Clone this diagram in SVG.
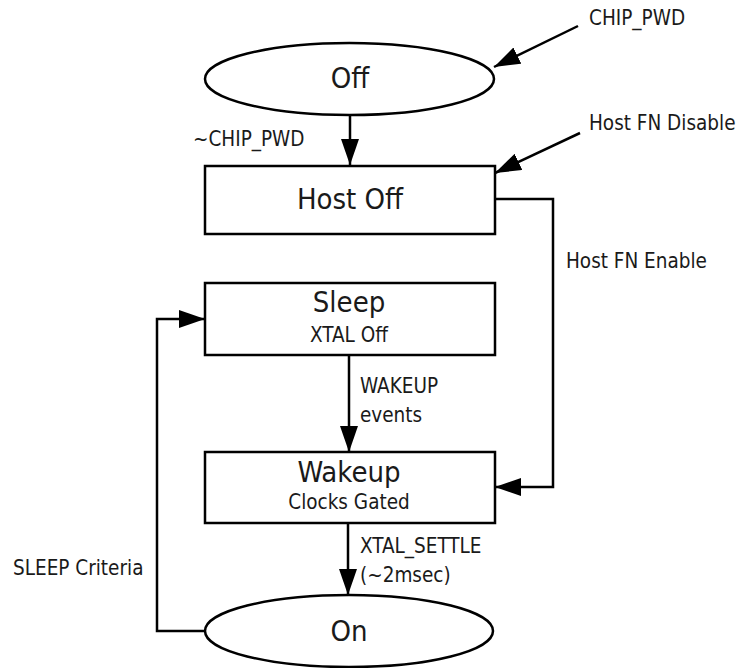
<svg xmlns="http://www.w3.org/2000/svg" width="741" height="668" viewBox="0 0 741 668">
<defs>
<marker id="ah" markerUnits="userSpaceOnUse" markerWidth="26" markerHeight="18" refX="26" refY="9" orient="auto">
<path d="M0,0 L26,9 L0,18 z" fill="#000"/>
</marker>
</defs>
<style>
.n{fill:#fff;stroke:#000;stroke-width:2.5}
.c{fill:none;stroke:#000;stroke-width:2.5}
text{font-family:"DejaVu Sans Condensed","DejaVu Sans",sans-serif;font-stretch:condensed;fill:#1a1a1a}
.big{font-size:29px;text-anchor:middle}
.sub{font-size:20.5px;text-anchor:middle}
.lbl{font-size:20.5px}
</style>
<rect width="741" height="668" fill="#fff"/>
<g id="connectors">
<path class="c" d="M350,115 V165" marker-end="url(#ah)"/>
<path class="c" d="M578,26 L494,67" marker-end="url(#ah)"/>
<path class="c" d="M580,133 L495,173" marker-end="url(#ah)"/>
<path class="c" d="M495,199 H553 V487 H495" marker-end="url(#ah)"/>
<path class="c" d="M349,355 V452" marker-end="url(#ah)"/>
<path class="c" d="M348,523 V595" marker-end="url(#ah)"/>
<path class="c" d="M205,631 H157 V319 H205" marker-end="url(#ah)"/>
<text class="lbl" x="193" y="146">~CHIP_PWD</text>
<text class="lbl" x="589" y="25">CHIP_PWD</text>
<text class="lbl" x="589" y="130">Host FN Disable</text>
<text class="lbl" x="566" y="268">Host FN Enable</text>
<text class="lbl" x="360" y="393">WAKEUP</text>
<text class="lbl" x="360" y="422">events</text>
<text class="lbl" x="360" y="553">XTAL_SETTLE</text>
<text class="lbl" x="360" y="582">(~2msec)</text>
<text class="lbl" x="13" y="575">SLEEP Criteria</text>
</g>
<g id="off">
<ellipse class="n" cx="349.5" cy="79" rx="144.5" ry="36"/>
<text class="big" x="350" y="88">Off</text>
</g>
<g id="hostoff">
<rect class="n" x="205" y="166" width="290" height="68"/>
<text class="big" x="350" y="209">Host Off</text>
</g>
<g id="sleep">
<rect class="n" x="205" y="283" width="290" height="72"/>
<text class="big" x="349" y="312">Sleep</text>
<text class="sub" x="349" y="342">XTAL Off</text>
</g>
<g id="wakeup">
<rect class="n" x="205" y="452" width="290" height="71"/>
<text class="big" x="349" y="482">Wakeup</text>
<text class="sub" x="349" y="509">Clocks Gated</text>
</g>
<g id="on">
<ellipse class="n" cx="349" cy="631" rx="144" ry="36"/>
<text class="big" x="349" y="641">On</text>
</g>
</svg>
